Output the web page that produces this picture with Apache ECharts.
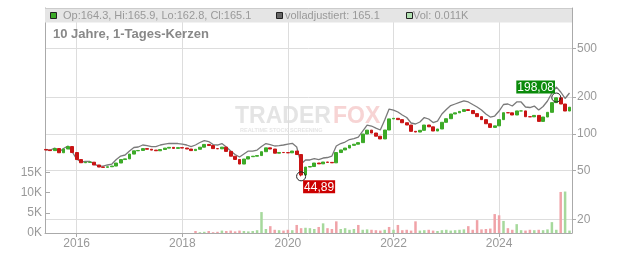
<!DOCTYPE html>
<html><head><meta charset="utf-8">
<script src="https://cdn.jsdelivr.net/npm/echarts@6/dist/echarts.min.js"></script>
<style>html,body{margin:0;padding:0;background:#fff}#c{width:632px;height:253px}</style>
</head><body><div id="c"></div>
<script>
// ---- data ----
const startYear = 2015, startMonth = 6;   // first monthly candle: June 2015
const firstOpen = 74.5;
const closes = [73.7,72.9,75.8,70.0,75.1,78.7,70.3,61.6,58.0,58.5,
 58.6,55.6,53.5,53.2,53.8,54.5,57.7,61.6,62.4,68.3,
 72.6,73.1,75.7,74.8,73.6,72.7,74.4,76.4,77.5,76.0,
 77.1,76.5,75.1,72.9,74.7,77.7,81.9,80.2,75.7,75.4,
 77.8,71.8,65.6,61.7,56.6,62.2,65.0,65.6,66.4,71.4,
 76.8,75.1,69.4,70.4,70.2,69.9,72.3,67.7,46.0,53.5,
 54.0,57.7,56.8,58.8,58.4,57.9,70.3,73.8,76.5,80.5,
 82.2,84.7,99.6,107.2,101.5,95.6,90.8,107.4,132.4,133.9,
 130.6,123.2,118.0,104.8,103.4,106.8,118.0,114.1,105.4,109.5,
 124.2,132.9,145.2,148.5,152.5,157.7,155.1,146.3,138.2,130.6,
 120.9,112.8,116.2,130.6,148.8,148.5,142.5,153.9,153.9,138.0,
 137.7,141.4,126.3,137.2,149.9,179.9,197.0,175.3,153.6,165.1];
const adjusted = [74.4,73.7,76.5,71.0,75.8,79.5,71.0,62.2,58.8,59.4,
 59.4,56.6,54.5,54.5,55.6,56.6,61.6,65.8,67.1,72.3,
 77.3,78.0,81.0,80.2,78.7,78.7,81.0,82.5,83.6,83.3,
 83.3,82.5,81.0,78.7,81.0,84.9,88.1,86.5,81.7,81.0,
 83.3,78.0,72.3,67.7,64.6,68.4,72.3,72.3,73.7,78.7,
 83.3,81.7,79.5,80.2,81.0,82.5,83.6,78.0,56.6,61.1,
 61.1,62.8,61.6,63.4,64.0,65.8,79.5,83.3,85.7,89.8,
 91.5,94.1,105.4,118.0,115.8,111.5,107.4,129.7,159.5,156.5,
 150.8,142.5,135.9,122.6,120.3,124.9,135.9,132.2,123.7,127.2,
 145.2,158.0,170.4,175.3,180.4,185.6,182.2,173.7,165.7,156.5,
 145.2,137.2,139.8,153.6,173.7,175.3,168.8,182.2,182.2,165.7,
 164.1,168.8,156.5,167.2,185.6,215.7,241.4,219.8,194.5,215.7];
const volumes = [0,0,0,0,0,0,0,0,0,0,
 0,0,0,0,0,0,0,0,0,0,
 0,0,0,0,0,0,0,0,0,0,
 0,0,0,0,500,200,300,500,200,300,
 600,500,600,400,600,500,400,500,700,5200,
 1000,1700,800,700,600,800,700,2000,1200,1300,
 1200,1000,1500,2400,1200,1000,2900,1000,1200,800,
 1000,2000,800,900,800,700,600,800,1500,800,
 2000,700,800,600,2900,600,700,800,600,500,
 700,800,600,700,800,900,1700,800,3200,900,
 1000,1100,4700,4400,3000,1200,800,2200,700,600,
 800,700,800,700,900,2700,800,10200,10300,600];
// u = green (up) bar, d = red (down) bar, . = no volume
const volumeSide = ".............................." + "....duuddd" + "udddduuuuu" + "uddudduddu" +
  "uududdduuu" + "uduudddudu" + "ddddduuddu" + "uuuuuudddd" + "ddddudduud" + "duduuuuduu";
const lowPoint = { index: 58, value: 44.89 };
const highPoint = { index: 116, value: 198.08 };
const yearTicks = [2016, 2018, 2020, 2022, 2024];
const priceTicks = [20, 50, 100, 200, 500];
const volumeTicks = [0, 5000, 10000, 15000];
const header = { op: '164.3', hi: '165.9', lo: '162.8', cl: '165.1', adj: '165.1', vol: '0.011K' };
const title = '10 Jahre, 1-Tages-Kerzen';

// ---- build ----
const FONT = 'Liberation Sans, Arial, sans-serif';
const UP = '#3caa28', DOWN = '#c81414';
// time position in decimal years (first of each month)
const times = closes.map((_, i) => startYear + (startMonth - 1 + i) / 12);
const candles = closes.map((c, i) => {
  const o = i ? closes[i - 1] : firstOpen;
  let lo = Math.min(o, c), hi = Math.max(o, c);
  if (i === lowPoint.index) lo = lowPoint.value;
  if (i === highPoint.index) hi = highPoint.value;
  return [times[i], o, c, lo, hi];
});
const adjData = adjusted.map((v, i) => [times[i], v]);
const volData = [];
volumes.forEach((v, i) => {
  if (volumeSide[i] === '.') return;
  volData.push({ value: [times[i], v], itemStyle: { color: volumeSide[i] === 'u' ? '#a6d99c' : '#f0a3a8' } });
});
const xMin = 2015.3996, xMax = 2025.3807;
const fmtDe = v => v.toFixed(2).replace('.', ',');

const chart = echarts.init(document.getElementById('c'), null, { renderer: 'canvas' });
chart.setOption({
  animation: false,
  backgroundColor: '#fff',
  textStyle: { fontFamily: FONT },
  grid: { left: 45, right: 60, top: 8, bottom: 20, containLabel: false },
  xAxis: {
    type: 'value', min: xMin, max: xMax,
    axisLine: { show: true, lineStyle: { color: '#aaa' } },
    axisTick: { show: true, length: 4, customValues: yearTicks, lineStyle: { color: '#aaa' } },
    axisLabel: { customValues: yearTicks, color: '#999', fontSize: 12, margin: 5, fontFamily: FONT,
      formatter: v => String(v) },
    splitLine: { show: true, lineStyle: { color: '#ddd', width: 1 } }
  },
  yAxis: [{
    type: 'log', position: 'right', min: 15.45, max: 1068.8,
    axisLine: { show: true, lineStyle: { color: '#aaa' } },
    axisTick: { show: true, length: 4, customValues: priceTicks, lineStyle: { color: '#aaa' } },
    axisLabel: { customValues: priceTicks, color: '#999', fontSize: 12, margin: 5, fontFamily: FONT },
    splitLine: { show: true, lineStyle: { color: '#ddd', width: 1 } }
  }, {
    type: 'value', position: 'left', min: 0, max: 55900,
    axisLine: { show: true, lineStyle: { color: '#aaa' } },
    axisTick: { show: true, inside: true, length: 5, customValues: volumeTicks, lineStyle: { color: '#aaa' } },
    axisLabel: { customValues: volumeTicks, color: '#999', fontSize: 12, margin: 3, fontFamily: FONT,
      formatter: v => (v / 1000) + 'K' },
    splitLine: { show: false }
  }],
  series: [{
    type: 'bar', yAxisIndex: 1, data: volData, barWidth: 2.5, z: 1
  }, {
    type: 'line', yAxisIndex: 0, data: adjData, showSymbol: false, symbol: 'none', z: 2,
    lineStyle: { color: '#7a7a7a', width: 1.3 }
  }, {
    type: 'candlestick', yAxisIndex: 0, data: candles, barWidth: 3.4, z: 3,
    encode: { x: 0, y: [1, 2, 3, 4] },
    itemStyle: { color: UP, color0: DOWN, borderColor: UP, borderColor0: DOWN, borderWidth: 1 },
    markPoint: {
      symbol: 'circle', symbolSize: 9,
      itemStyle: { color: 'rgba(0,0,0,0)', borderColor: '#222', borderWidth: 1 },
      data: [
        { type: 'min', valueDim: 'lowest',
          label: { show: true, position: [7, 9], formatter: p => fmtDe(p.value), color: '#fff', fontSize: 12,
            backgroundColor: '#cc0000', padding: [1, 1, 0, 1], lineHeight: 12, fontFamily: FONT } },
        { type: 'max', valueDim: 'highest',
          label: { show: true, position: [-35, -12], formatter: p => fmtDe(p.value), color: '#fff', fontSize: 12,
            backgroundColor: '#0a8a0a', padding: [1, 1, 0, 1], lineHeight: 12, fontFamily: FONT } }
      ]
    }
  }],
  graphic: [
    { type: 'text', z: 0, x: 235, y: 117, style: { text: 'TRADER', fontSize: 23, fontWeight: 'bold', fontFamily: FONT, fill: '#e4e4e4', verticalAlign: 'middle' } },
    { type: 'text', z: 0, x: 333, y: 117, style: { text: 'FOX', fontSize: 23, fontWeight: 'bold', fontFamily: FONT, fill: '#f7d4d4', verticalAlign: 'middle' } },
    { type: 'text', z: 0, x: 240, y: 130, style: { text: 'REALTIME STOCK SCREENING', fontSize: 5.5, fontWeight: 'bold', fontFamily: FONT, fill: '#e6e6e6', verticalAlign: 'middle' } },
    { type: 'rect', z: 100, shape: { x: 45, y: 8, width: 527, height: 14.5 }, style: { fill: '#e5e5e5' } },
    { type: 'line', z: 101, shape: { x1: 45, y1: 8.5, x2: 572, y2: 8.5 }, style: { stroke: '#ccc', lineWidth: 1 } },
    { type: 'rect', z: 101, shape: { x: 50.5, y: 12.5, width: 6, height: 6 }, style: { fill: UP, stroke: '#222', lineWidth: 1 } },
    { type: 'text', z: 101, x: 63, y: 16, style: { text: 'Op:' + header.op + ', Hi:' + header.hi + ', Lo:' + header.lo + ', Cl:' + header.cl, fontSize: 11, fontFamily: FONT, fill: '#999', verticalAlign: 'middle' } },
    { type: 'rect', z: 101, shape: { x: 276.5, y: 12.5, width: 6, height: 6 }, style: { fill: '#666', stroke: '#222', lineWidth: 1 } },
    { type: 'text', z: 101, x: 285, y: 16, style: { text: 'volladjustiert: ' + header.adj, fontSize: 11, fontFamily: FONT, fill: '#999', verticalAlign: 'middle' } },
    { type: 'rect', z: 101, shape: { x: 406.5, y: 12.5, width: 6, height: 6 }, style: { fill: '#b0e0b0', stroke: '#222', lineWidth: 1 } },
    { type: 'text', z: 101, x: 413, y: 16, style: { text: 'Vol: ' + header.vol, fontSize: 11, fontFamily: FONT, fill: '#999', verticalAlign: 'middle' } },
    { type: 'text', z: 101, x: 53, y: 34, style: { text: title, fontSize: 13, fontWeight: 'bold', fontFamily: FONT, fill: '#888', verticalAlign: 'middle' } }
  ]
});
</script></body></html>
